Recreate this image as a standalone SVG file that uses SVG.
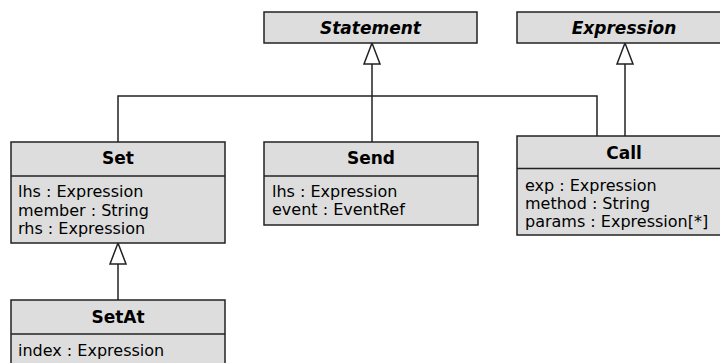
<svg xmlns="http://www.w3.org/2000/svg" width="720" height="363" viewBox="0 0 720 363">
<style>
.box{fill:#dddddd;stroke:#222222;stroke-width:1.5}
.sep{stroke:#222222;stroke-width:1.5}
.title{font-family:"DejaVu Sans",sans-serif;font-size:17px;font-weight:bold;text-anchor:middle;fill:#000}
.abs{font-style:italic}
.attr{font-family:"DejaVu Sans",sans-serif;font-size:16px;fill:#000}
.edge{fill:none;stroke:#222222;stroke-width:1.5}
.tri{fill:#ffffff;stroke:#222222;stroke-width:1.5}
</style>
<rect width="720" height="363" fill="#ffffff"/>
<g id="connectors">
<polyline class="edge" points="118,142 118,96 597,96 597,136"/>
<line class="edge" x1="372" y1="64" x2="372" y2="142"/>
<line class="edge" x1="625" y1="64" x2="625" y2="136"/>
<line class="edge" x1="118" y1="264" x2="118" y2="300"/>
<polygon class="tri" points="372,43 364,64 380,64"/>
<polygon class="tri" points="625,43 617,64 633,64"/>
<polygon class="tri" points="118,243 110,264 126,264"/>
</g>
<g id="Statement">
<rect class="box" x="264" y="12" width="213" height="31"/>
<text class="title abs" x="370.5" y="33.5">Statement</text>
</g>
<g id="Expression">
<rect class="box" x="517" y="12" width="210" height="31"/>
<text class="title abs" x="624" y="33.5">Expression</text>
</g>
<g id="Set">
<rect class="box" x="11" y="142" width="214" height="101"/>
<line class="sep" x1="11" y1="176" x2="225" y2="176"/>
<text class="title" x="118" y="164">Set</text>
<text class="attr" x="18" y="197">lhs : Expression</text>
<text class="attr" x="18" y="215.5">member : String</text>
<text class="attr" x="18" y="234">rhs : Expression</text>
</g>
<g id="Send">
<rect class="box" x="264" y="142" width="214" height="83"/>
<line class="sep" x1="264" y1="176" x2="478" y2="176"/>
<text class="title" x="371" y="164">Send</text>
<text class="attr" x="272" y="197">lhs : Expression</text>
<text class="attr" x="272" y="215">event : EventRef</text>
</g>
<g id="Call">
<rect class="box" x="517" y="136" width="210" height="99"/>
<line class="sep" x1="517" y1="168.5" x2="727" y2="168.5"/>
<text class="title" x="624" y="159">Call</text>
<text class="attr" x="525" y="191">exp : Expression</text>
<text class="attr" x="525" y="209">method : String</text>
<text class="attr" x="525" y="227">params : Expression[*]</text>
</g>
<g id="SetAt">
<rect class="box" x="11" y="300" width="214" height="75"/>
<line class="sep" x1="11" y1="334" x2="225" y2="334"/>
<text class="title" x="118" y="322.5">SetAt</text>
<text class="attr" x="18" y="355.5">index : Expression</text>
</g>
</svg>
